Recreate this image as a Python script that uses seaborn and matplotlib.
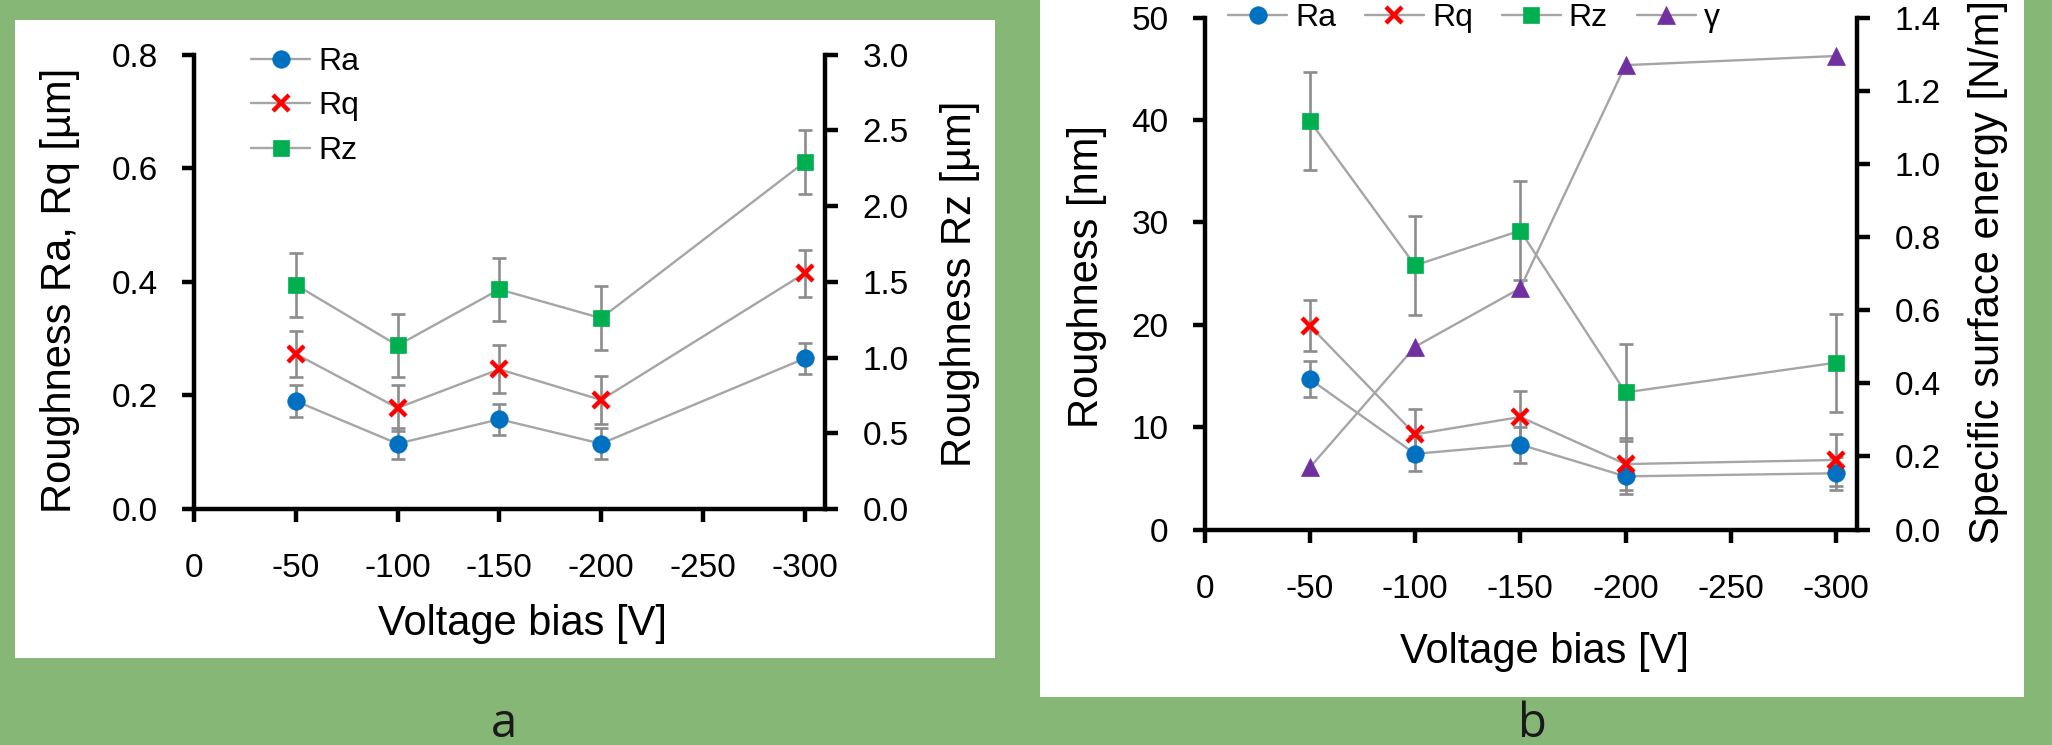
import numpy as np
import pandas as pd
import matplotlib
matplotlib.use("Agg")
import matplotlib.pyplot as plt
import seaborn as sns
from matplotlib.patches import Rectangle
from matplotlib.lines import Line2D
from matplotlib.ticker import FormatStrFormatter

# ---------------- data ----------------
bias = [-50, -100, -150, -200, -300]
x_ticks = [0, -50, -100, -150, -200, -250, -300]

# panel a  (µm)
a_ra = [0.190, 0.115, 0.158, 0.115, 0.265]
a_ra_err = [0.028, 0.027, 0.027, 0.027, 0.027]
a_rq = [0.273, 0.178, 0.246, 0.192, 0.415]
a_rq_err = [0.041, 0.040, 0.042, 0.042, 0.041]
a_rz = [1.48, 1.08, 1.45, 1.26, 2.29]
a_rz_err = [0.21, 0.21, 0.21, 0.21, 0.21]

# panel b  (nm, N/m)
b_ra = [14.7, 7.4, 8.3, 5.2, 5.5]
b_ra_err = [1.75, 1.7, 1.75, 1.7, 1.6]
b_rq = [19.9, 9.3, 11.0, 6.4, 6.8]
b_rq_err = [2.5, 2.5, 2.5, 2.5, 2.5]
b_rz = [39.9, 25.8, 29.2, 13.4, 16.3]
b_rz_err = [4.8, 4.8, 4.8, 4.75, 4.8]
b_gamma = [0.17, 0.50, 0.66, 1.27, 1.295]

series_names = ["Ra", "Rq", "Rz", "γ"]

# ---------------- style ----------------
sns.set_style("ticks")
plt.rcParams["font.family"] = ["Liberation Sans", "DejaVu Sans"]
plt.rcParams["axes.unicode_minus"] = False
plt.rcParams["text.color"] = "black"
plt.rcParams["axes.labelcolor"] = "black"
plt.rcParams["xtick.color"] = "black"
plt.rcParams["ytick.color"] = "black"

W, H = 2052, 745
DPI = 100
BG = "#86B776"
LINE_GRAY = "#A5A5A5"
ERR_GRAY = "#8C8C8C"
C_RA, C_RQ, C_RZ, C_G = "#0070C0", "#FF0000", "#00B050", "#7030A0"
SPW = 3.2
TICK_FS = 24
LAB_FS = 30

fig = plt.figure(figsize=(W / DPI, H / DPI), dpi=DPI, facecolor=BG)


def fx(px):
    return px / W


def fy(py):
    return 1 - py / H


# white panels
fig.patches.append(Rectangle((fx(15), fy(658)), fx(995) - fx(15), fy(20) - fy(658),
                             transform=fig.transFigure, facecolor="white", edgecolor="none", zorder=-10))
fig.patches.append(Rectangle((fx(1040), fy(697)), fx(2024) - fx(1040), fy(0) - fy(697) + 0.01,
                             transform=fig.transFigure, facecolor="white", edgecolor="none", zorder=-10))

axA = fig.add_axes([fx(194), fy(509), fx(825) - fx(194), fy(54.6) - fy(509)])
axB = fig.add_axes([fx(1204.6), fy(529.6), fx(1857) - fx(1204.6), fy(17.6) - fy(529.6)])
axA2 = axA.twinx()
axB2 = axB.twinx()

marker_style = {
    "Ra": dict(marker="o", markersize=12.6, markerfacecolor=C_RA, markeredgecolor=C_RA, markeredgewidth=0.5),
    "Rq": dict(marker="x", markersize=11, markerfacecolor=C_RQ, markeredgecolor=C_RQ, markeredgewidth=3.2),
    "Rz": dict(marker="s", markersize=12, markerfacecolor=C_RZ, markeredgecolor=C_RZ, markeredgewidth=0.5),
    "γ": dict(marker="^", markersize=13, markerfacecolor=C_G, markeredgecolor=C_G, markeredgewidth=0.5),
}


def draw(ax, y, err, name):
    if err is not None:
        ax.errorbar(bias, y, yerr=err, fmt="none", ecolor=ERR_GRAY, elinewidth=1.9,
                    capsize=4.8, capthick=1.9, zorder=2)
    df = pd.DataFrame({"bias": bias, "val": y})
    sns.lineplot(data=df, x="bias", y="val", ax=ax, color=LINE_GRAY, linewidth=1.7,
                 errorbar=None, legend=False, zorder=3, **marker_style[name])


draw(axA, a_ra, a_ra_err, "Ra")
draw(axA, a_rq, a_rq_err, "Rq")
draw(axA2, a_rz, a_rz_err, "Rz")

draw(axB, b_ra, b_ra_err, "Ra")
draw(axB, b_rq, b_rq_err, "Rq")
draw(axB, b_rz, b_rz_err, "Rz")
draw(axB2, b_gamma, None, "γ")

# ---------------- axes formatting ----------------
axA.set_ylim(0, 0.8)
axA.set_yticks([0, 0.2, 0.4, 0.6, 0.8])
axA.yaxis.set_major_formatter(FormatStrFormatter("%.1f"))
axA2.set_ylim(0, 3.0)
axA2.set_yticks([0, 0.5, 1.0, 1.5, 2.0, 2.5, 3.0])
axA2.yaxis.set_major_formatter(FormatStrFormatter("%.1f"))

axB.set_ylim(0, 50)
axB.set_yticks([0, 10, 20, 30, 40, 50])
axB2.set_ylim(0, 1.4)
axB2.set_yticks([0, 0.2, 0.4, 0.6, 0.8, 1.0, 1.2, 1.4])
axB2.yaxis.set_major_formatter(FormatStrFormatter("%.1f"))

for ax, ax2 in ((axA, axA2), (axB, axB2)):
    ax.set_xlim(0, -310)
    ax.set_xticks(x_ticks)
    ax.xaxis.set_major_formatter(FormatStrFormatter("%d"))
    for a in (ax, ax2):
        a.set_facecolor("none")
        a.patch.set_visible(False)
        a.spines["top"].set_visible(False)
        for s in a.spines.values():
            s.set_linewidth(SPW)
            s.set_color("black")
    ax.spines["right"].set_visible(False)
    ax2.spines["left"].set_visible(False)
    ax2.spines["bottom"].set_visible(False)
    ax.tick_params(axis="x", direction="out", length=9, width=SPW, labelsize=TICK_FS, pad=23, colors="black")
    ax.tick_params(axis="y", direction="out", length=9, width=SPW, labelsize=TICK_FS, pad=17, colors="black")
    ax2.tick_params(axis="y", direction="out", length=9, width=SPW, labelsize=TICK_FS, pad=18, colors="black")

axA.set_xlabel("Voltage bias [V]", fontsize=LAB_FS)
axA.set_ylabel("Roughness Ra, Rq [µm]", fontsize=LAB_FS)
axA2.set_ylabel("Roughness Rz [µm]", fontsize=LAB_FS)
axB.set_xlabel("Voltage bias [V]", fontsize=LAB_FS)
axB.set_ylabel("Roughness [nm]", fontsize=LAB_FS)
axB2.set_ylabel("Specific surface energy [N/m]", fontsize=LAB_FS)

label_pos = [
    (axA.xaxis, 523, 624), (axA.yaxis, 60, 290), (axA2.yaxis, 960, 284),
    (axB.xaxis, 1544, 652), (axB.yaxis, 1087, 276), (axB2.yaxis, 1988, 272),
]
for axis, px, py in label_pos:
    axis.set_label_coords(fx(px), fy(py), transform=fig.transFigure)
    axis.label.set_va("center")
    axis.label.set_ha("center")

# ---------------- legends ----------------
def handle(name):
    return Line2D([], [], color=LINE_GRAY, linewidth=1.7, **marker_style[name])

legA = fig.legend([handle(n) for n in series_names[:3]], series_names[:3],
                  loc="upper left", bbox_to_anchor=(fx(251), fy(47)), bbox_transform=fig.transFigure,
                  frameon=False, fontsize=23, handlelength=1.85, handletextpad=0.25,
                  labelspacing=0.45, borderpad=0, borderaxespad=0)
legB = fig.legend([handle(n) for n in series_names], series_names, ncol=4,
                  loc="upper left", bbox_to_anchor=(fx(1228), fy(3)), bbox_transform=fig.transFigure,
                  frameon=False, fontsize=23, handlelength=1.85, handletextpad=0.25,
                  columnspacing=0.9, borderpad=0, borderaxespad=0)

# panel captions
fig.text(fx(504), fy(737), "a", fontsize=34, family=["Open Sans", "DejaVu Sans"],
         ha="center", va="baseline", color="#1a1a1a")
fig.text(fx(1532), fy(737), "b", fontsize=34, family=["Open Sans", "DejaVu Sans"],
         ha="center", va="baseline", color="#1a1a1a")

fig.savefig("out.png", dpi=DPI, facecolor=BG)
